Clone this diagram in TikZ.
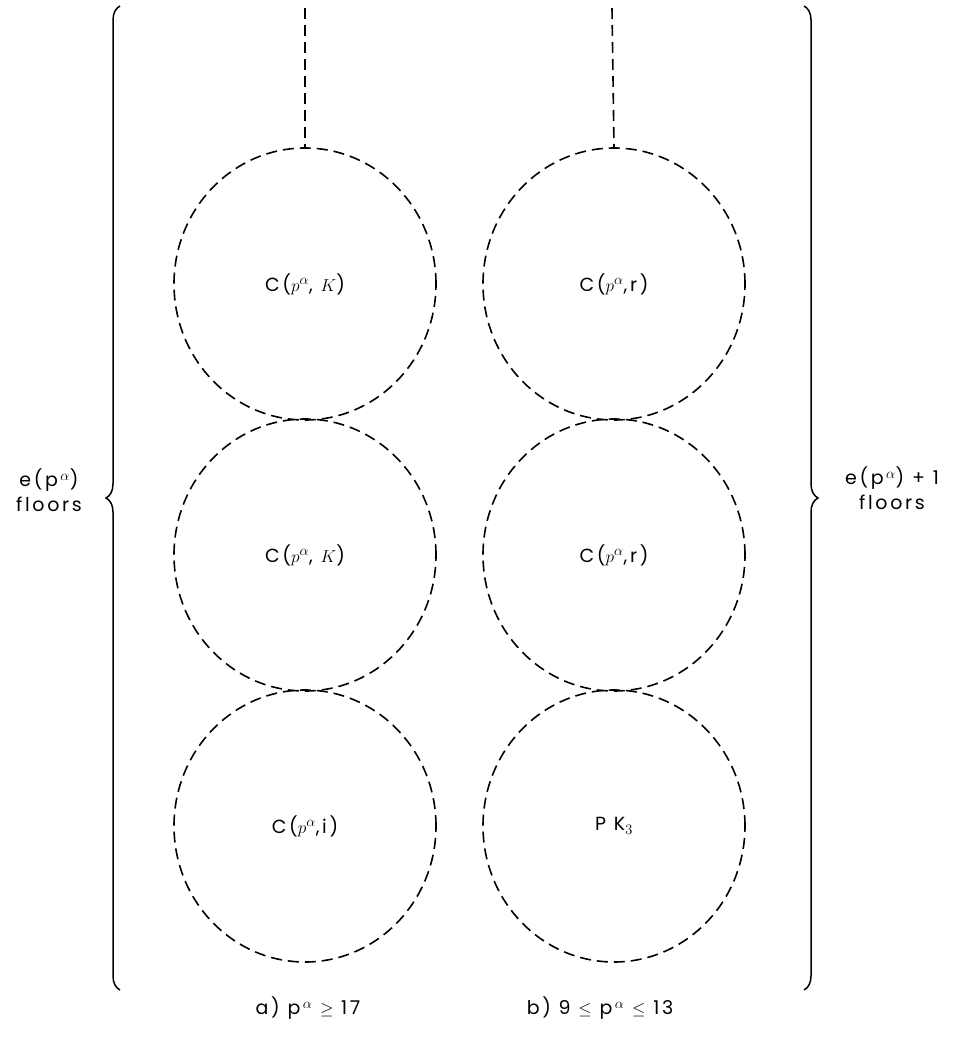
\documentclass[tikz,border=0pt]{standalone}
\usepackage{fontspec}
\setmainfont{Poppins}[LetterSpace=14]
\usetikzlibrary{decorations.pathreplacing,shapes.geometric}
\begin{document}
\begin{tikzpicture}[x=1pt,y=-1pt,
  dsh/.style={dash pattern=on 11pt off 6pt, line width=1.6pt},
  ring/.style={ellipse, draw, dsh, minimum width=262pt, minimum height=272pt, inner sep=0pt, font=\fontsize{19}{22}\selectfont},
  lbl/.style={font=\fontsize{19}{25}\selectfont, align=center, inner sep=0pt},
  brc/.style={decorate, decoration={brace, amplitude=14pt}, line width=1.5pt}]
\fill[white] (0,0) rectangle (971,1037);
% left column
\node[ring] (a1) at (305,284) {C($p^{\alpha}$, $K$)};
\node[ring] (a2) at (305,555) {C($p^{\alpha}$, $K$)};
\node[ring] (a3) at (305,826) {C($p^{\alpha}$,i)};
% right column
\node[ring] (b1) at (614,284) {C($p^{\alpha}$,r)};
\node[ring] (b2) at (614,555) {C($p^{\alpha}$,r)};
\node[ring] (b3) at (614,826) {P K$_3$};
% stubs
\coordinate (sa) at (305,8);
\coordinate (sb) at (612,8);
\draw[dsh] (sa) -- (a1.north);
\draw[dsh] (sb) -- (b1.north);
% braces
\coordinate (lt) at (120,6);
\coordinate (lb) at (120,990);
\coordinate (rt) at (804,6);
\coordinate (rb) at (804,990);
\draw[brc] (lb) -- (lt);
\draw[brc] (rt) -- (rb);
% side labels
\node[lbl] (ll) at (49,490) {e(p$^{\,\alpha}$)\\floors};
\node[lbl] (rl) at (892,488) {e(p$^{\,\alpha}$) + 1\\floors};
% captions
\node[lbl] (ca) at (308,1008) {a) p$^{\,\alpha}$ $\geq$ 17};
\node[lbl] (cb) at (600,1008) {b) 9 $\leq$ p$^{\,\alpha}$ $\leq$ 13};
\end{tikzpicture}
\end{document}
